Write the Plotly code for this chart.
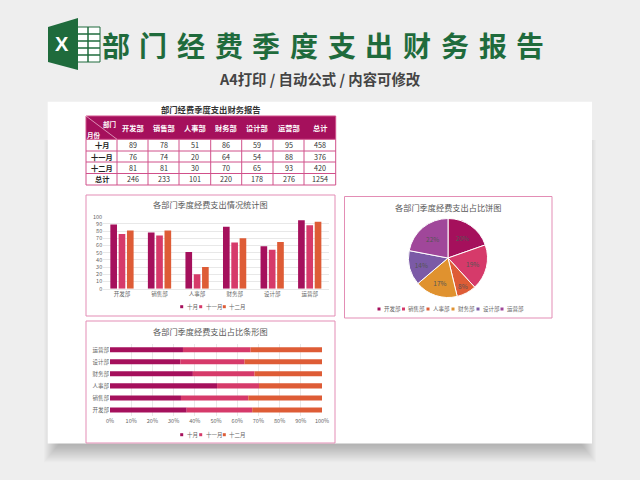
import plotly.graph_objects as go

W, H = 640, 480
departments = ["开发部", "销售部", "人事部", "财务部", "设计部", "运营部"]
months = ["十月", "十一月", "十二月"]
oct_vals = [89, 78, 51, 86, 59, 95]
nov_vals = [76, 74, 20, 64, 54, 88]
dec_vals = [81, 81, 30, 70, 65, 93]
month_totals = [458, 376, 420]
dept_totals = [246, 233, 101, 220, 178, 276]
grand_total = 1254
pie_text = ["20%", "19%", "8%", "17%", "14%", "22%"]
month_colors = ["#A5105C", "#D63A6A", "#DE5C36"]
pie_colors = ["#A5105C", "#D63A6A", "#DE5C36", "#E0922F", "#7B5AA6", "#A0479A"]
title_chars = list("部门经费季度支出财务报告")
CJK = "Noto Sans CJK SC"
GREEN = "#1F6B3C"
FRAME = "#E38DB5"
GRIDC = "#D0508A"


def px(x):
    return x / W


def py(y):
    return 1 - y / H


shapes, annos = [], []


def rect(x0, y0, x1, y1, fill, line=None, lw=0, opacity=1.0, layer="below"):
    shapes.append(dict(type="rect", xref="paper", yref="paper", x0=px(x0), x1=px(x1), y0=py(y0), y1=py(y1),
                       fillcolor=fill, opacity=opacity, line=dict(color=line or fill, width=lw), layer=layer))


def seg(x0, y0, x1, y1, color, width):
    shapes.append(dict(type="line", xref="paper", yref="paper", x0=px(x0), x1=px(x1), y0=py(y0), y1=py(y1),
                       line=dict(color=color, width=width)))


def text(x, y, s, size, color, weight="normal", anchor="center", family=CJK):
    annos.append(dict(x=px(x), y=py(y), xref="paper", yref="paper", text=s, showarrow=False, xanchor=anchor,
                      yanchor="middle", font=dict(size=size, color=color, family=family, weight=weight)))


# soft sheet shadow, heavier under the sheet
for i in range(16, 0, -1):
    rect(60 - i, 140, 580 + i, 443 + i * 1.2, "#000000", opacity=0.014)
rect(47.7, 101.7, 592, 443.5, "#FFFFFF")
rect(86, 195, 335, 316, "#FFFFFF", FRAME, 1)
rect(86, 321, 335, 443, "#FFFFFF", FRAME, 1)
rect(344.5, 196.5, 552, 318, "#FFFFFF", FRAME, 1)

# logo
rect(76, 27, 100, 62, "#FFFFFF", GREEN, 1, layer="above")
for yy in (34, 41, 48, 55):
    seg(78, yy, 100, yy, GREEN, 1.5)
seg(88, 27, 88, 62, GREEN, 1.5)
shapes.append(dict(type="path", xref="paper", yref="paper",
                   path=f"M {px(48)} {py(27)} L {px(78)} {py(18)} L {px(78)} {py(70)} L {px(48)} {py(62)} Z",
                   fillcolor=GREEN, line=dict(width=0)))
text(62, 44, "X", 20, "#FFFFFF", "bold", family="Liberation Sans")

# page title
for i, c in enumerate(title_chars):
    text(115.5 + i * 37.7, 45, c, 28, GREEN, "bold")
text(320, 79, "A4打印 / 自动公式 / 内容可修改", 14.4, "#444444", "bold")
text(211, 109, "部门经费季度支出财务报告", 8.3, "#333333", "bold")

# chart titles
text(210.5, 204, "各部门季度经费支出情况统计图", 8.2, "#595959")
text(210.5, 330.7, "各部门季度经费支出占比条形图", 8.2, "#595959")
text(448.3, 206.7, "各部门季度经费支出占比饼图", 8.2, "#595959")

# table
col_edges = [86, 117, 148, 179, 210.7, 241.7, 273, 304, 335.7]
row_edges = [116, 139.3, 151, 162, 173.5, 185]
rect(col_edges[0], row_edges[0], col_edges[-1], row_edges[1], "#A5105C")
for x in col_edges:
    seg(x, row_edges[1], x, row_edges[-1], GRIDC, 1)
seg(col_edges[0], row_edges[0], col_edges[0], row_edges[1], GRIDC, 1)
seg(col_edges[-1], row_edges[0], col_edges[-1], row_edges[1], GRIDC, 1)
for y in row_edges:
    seg(col_edges[0], y, col_edges[-1], y, GRIDC, 1)
seg(col_edges[0], row_edges[0], col_edges[1], row_edges[1], "#F2C6DA", 0.7)
text(109, 124, "部门", 6.5, "#FFFFFF", "bold")
text(94, 135.5, "月份", 6.5, "#FFFFFF", "bold")
header = departments + ["总计"]
for j, h in enumerate(header):
    text((col_edges[j + 1] + col_edges[j + 2]) / 2, 127.5, h, 7.2, "#FFFFFF", "bold")
rows = [oct_vals + [month_totals[0]], nov_vals + [month_totals[1]], dec_vals + [month_totals[2]],
        dept_totals + [grand_total]]
for i, (lab, row) in enumerate(zip(months + ["总计"], rows)):
    yc = (row_edges[i + 1] + row_edges[i + 2]) / 2
    text((col_edges[0] + col_edges[1]) / 2, yc, lab, 7.2, "#222222", "bold")
    for j, v in enumerate(row):
        text((col_edges[j + 1] + col_edges[j + 2]) / 2, yc, str(v), 7.2, "#333333")

traces = []
# grouped columns
for name, vals, col in zip(months, (oct_vals, nov_vals, dec_vals), month_colors):
    traces.append(go.Bar(name=name, x=departments, y=vals, marker=dict(color=col, line=dict(width=0)),
                         xaxis="x", yaxis="y", showlegend=False))
# 100% stacked bars: shares derived from the same arrays
base = [0.0] * 6
for name, vals, col in zip(months, (oct_vals, nov_vals, dec_vals), month_colors):
    share = [100 * v / t for v, t in zip(vals, dept_totals)]
    traces.append(go.Bar(name=name, y=departments, x=share, base=list(base), orientation="h", width=0.42,
                         offsetgroup="s", marker=dict(color=col, line=dict(width=0)),
                         xaxis="x2", yaxis="y2", showlegend=False))
    base = [b + s for b, s in zip(base, share)]

# pie
cx, cy, r = 448, 258, 39.5
traces.append(go.Pie(labels=departments, values=dept_totals, text=pie_text, textinfo="text", sort=False,
                     direction="clockwise", rotation=0, marker=dict(colors=pie_colors, line=dict(color="#FFFFFF", width=1)),
                     domain=dict(x=[px(cx - r), px(cx + r)], y=[py(cy + r), py(cy - r)]),
                     textposition="inside", insidetextorientation="horizontal",
                     textfont=dict(size=6.5, color="#555555", family=CJK), showlegend=False, hoverinfo="label+percent"))

# legend keys
leg_sq = [181.7, 200.7, 224.3]
leg_tx = [184.5, 203.5, 227.2]
for yy in (306.7, 434.7):
    for sx, tx, m, c in zip(leg_sq, leg_tx, months, month_colors):
        rect(sx - 1.5, yy - 1.5, sx + 1.5, yy + 1.5, c, layer="above")
        text(tx, yy, m, 5.5, "#666666", anchor="left")
pie_sq = [379, 403.5, 428, 453, 478, 502]
for sx, d, c in zip(pie_sq, departments, pie_colors):
    rect(sx - 1.5, 307.5, sx + 1.5, 310.5, c, layer="above")
    text(sx + 2.5, 309, d, 5.5, "#666666", anchor="left")

fig = go.Figure(traces)
tick = dict(size=5.5, color="#666666", family=CJK)
grid = "#E8E8E8"
fig.update_layout(
    width=W, height=H, margin=dict(l=0, r=0, t=0, b=0, pad=0, autoexpand=False), autosize=False,
    paper_bgcolor="#EEEEEE", plot_bgcolor="rgba(0,0,0,0)", barmode="group", showlegend=False,
    bargap=0.336, bargroupgap=0.2,
    shapes=shapes, annotations=annos,
)
fig.update_layout(
    xaxis=dict(domain=[px(103.2), px(328.5)], anchor="y", showgrid=False, tickfont=tick, ticks="", showline=True, linecolor=grid),
    yaxis=dict(domain=[py(288.7), py(216.7)], anchor="x", range=[0, 100], dtick=10, gridcolor=grid, tickfont=tick, zeroline=False),
    xaxis2=dict(domain=[px(110), px(322)], anchor="y2", range=[0, 100], dtick=10, ticksuffix="%", gridcolor=grid, tickfont=tick, zeroline=False),
    yaxis2=dict(domain=[py(416), py(343.7)], anchor="x2", tickfont=tick, ticks="", showgrid=False, showline=False),
)
fig.write_html("out.html", config=dict(displayModeBar=False),
               post_script="document.body.style.margin='0';document.body.style.overflow='hidden';document.body.style.background='#EEEEEE';")
